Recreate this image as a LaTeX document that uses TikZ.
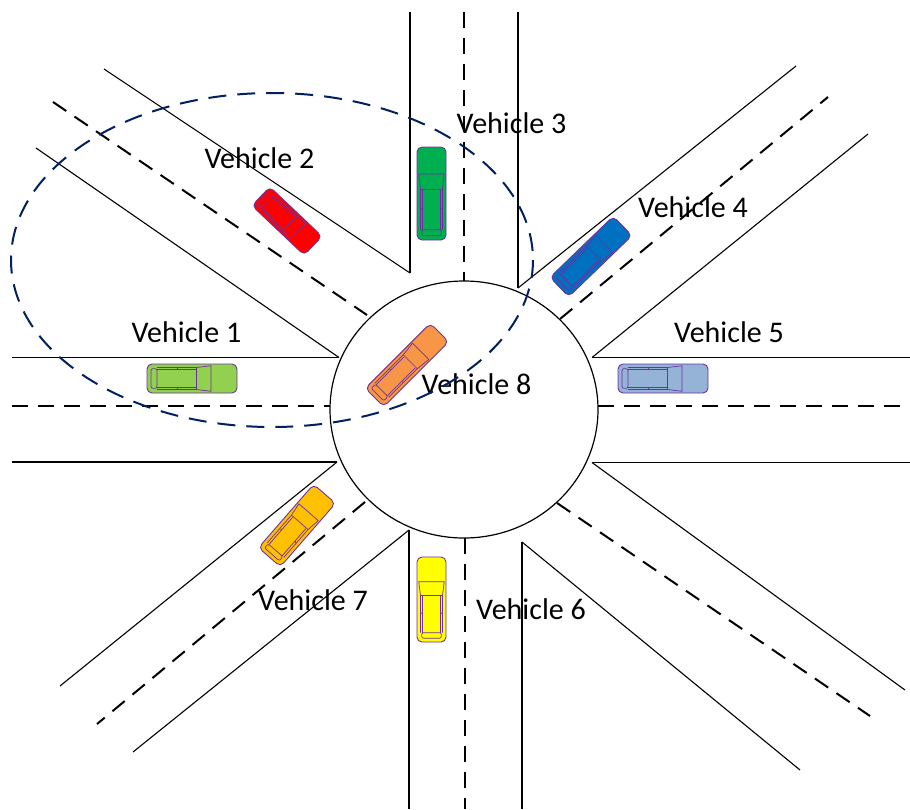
\documentclass[tikz,border=0pt]{standalone}
\usepackage{fontspec}
\setmainfont{Carlito}
\definecolor{carline}{HTML}{7030A0}
\definecolor{rangeblue}{HTML}{002060}
\definecolor{vone}{HTML}{92D050}
\definecolor{vtwo}{HTML}{FF0000}
\definecolor{vthree}{HTML}{00B050}
\definecolor{vfour}{HTML}{0070C0}
\definecolor{vfive}{HTML}{95B3D7}
\definecolor{vsix}{HTML}{FFFF00}
\definecolor{vseven}{HTML}{FFC000}
\definecolor{veight}{HTML}{F79646}
\tikzset{
  road/.style={line width=1.1pt, black},
  lane/.style={line width=2pt, black, dash pattern=on 16pt off 10pt},
  commrange/.style={line width=2pt, rangeblue, dash pattern=on 18pt off 11pt},
  lbl/.style={font=\fontsize{30}{36}\selectfont, anchor=base, inner sep=0pt},
  carbody/.style={draw=carline, line width=0.9pt, rounded corners=5pt},
  cardetail/.style={draw=carline, line width=0.7pt},
  % top view of a car, front towards +x: length, width, fill colour
  pics/car/.style n args={3}{code={
    \path[carbody, fill=#3] ({-#1/2},{-#2/2}) rectangle ({#1/2},{#2/2});
    \draw[cardetail, rounded corners=2pt] ({-0.455*#1},{-0.34*#2}) rectangle ({-0.39*#1},{0.34*#2});
    \draw[cardetail] ({-0.39*#1},{-0.38*#2}) -- ({0.05*#1},{-0.38*#2})
      -- ({0.21*#1},{-0.44*#2}) -- ({0.21*#1},{0.44*#2})
      -- ({0.05*#1},{0.38*#2}) -- ({-0.39*#1},{0.38*#2});
    \draw[cardetail] ({0.05*#1},{-0.38*#2}) -- ({0.05*#1},{0.38*#2});
    \draw[cardetail] ({-0.39*#1},{-0.30*#2}) -- ({0.04*#1},{-0.30*#2});
    \draw[cardetail] ({-0.39*#1},{0.30*#2}) -- ({0.04*#1},{0.30*#2});
    \draw[cardetail] ({-0.17*#1},{-0.38*#2}) -- ({-0.15*#1},{-0.30*#2});
    \draw[cardetail] ({-0.17*#1},{0.38*#2}) -- ({-0.15*#1},{0.30*#2});
  }}
}
\begin{document}
\begin{tikzpicture}[x=1pt, y=-1pt]
\useasboundingbox (0,0) rectangle (910,809);

% west road
\draw[road] (12,357.5) -- (339,357.5);
\draw[lane] (12,406) -- (330,406);
\draw[road] (12,462) -- (337,462);
% north-west road
\draw[road] (104,69) -- (410,273);
\draw[road] (36,148) -- (339,357.5);
\draw[lane] (53,102) -- (367,315);
% north road
\draw[road] (410,12) -- (410,273);
\draw[lane] (464,12) -- (464,281);
\draw[road] (518,12) -- (518,288);
% north-east road
\draw[road] (518,288) -- (796,66);
\draw[lane] (560,319) -- (828,97);
\draw[road] (592,357.5) -- (868,134);
% east road
\draw[road] (592,357.5) -- (910,357.5);
\draw[lane] (598,406) -- (910,406);
\draw[road] (592,462.5) -- (910,462.5);
% south-west road
\draw[road] (337,462) -- (60,686);
\draw[lane] (365,502) -- (97,724);
\draw[road] (409,530) -- (133,752);
% south road
\draw[road] (409,530) -- (409,809);
\draw[lane] (465,538) -- (465,809);
\draw[road] (522,542) -- (522,809);
% south-east road
\draw[road] (522,542) -- (800,770);
\draw[lane] (557,503) -- (870,716);
\draw[road] (592,462.5) -- (905,690);

% roundabout
\draw[line width=1.2pt] (464,409.5) ellipse [x radius=134, y radius=128.5];

% vehicles (rotate turns counter-clockwise on the page)
\pic at (192,378.5) {car={90}{29}{vone}};
\pic[rotate=-43.5] at (287,221) {car={72}{26}{vtwo}};
\pic[rotate=90] at (431.5,193.5) {car={93}{29}{vthree}};
\pic[rotate=44] at (591,256.5) {car={88}{27}{vfour}};
\pic at (663,378.5) {car={90}{29}{vfive}};
\pic[rotate=90] at (431.5,599.5) {car={85}{29}{vsix}};
\pic[rotate=49] at (297,525.5) {car={84}{29}{vseven}};
\pic[rotate=45] at (407,365) {car={92}{26}{veight}};

% labels
\node[lbl] (l1) at (186.5,342) {Vehicle 1};
\node[lbl] (l2) at (259.5,168) {Vehicle 2};
\node[lbl] (l3) at (511.5,133) {Vehicle 3};
\node[lbl] (l4) at (693,217) {Vehicle 4};
\node[lbl] (l5) at (729,342) {Vehicle 5};
\node[lbl] (l6) at (531,619) {Vehicle 6};
\node[lbl] (l7) at (313,610) {Vehicle 7};
\node[lbl] (l8) at (476.5,394) {Vehicle 8};

% communication range of vehicle 2
\draw[commrange] (272,260) ellipse [x radius=261, y radius=167];
\end{tikzpicture}
\end{document}
